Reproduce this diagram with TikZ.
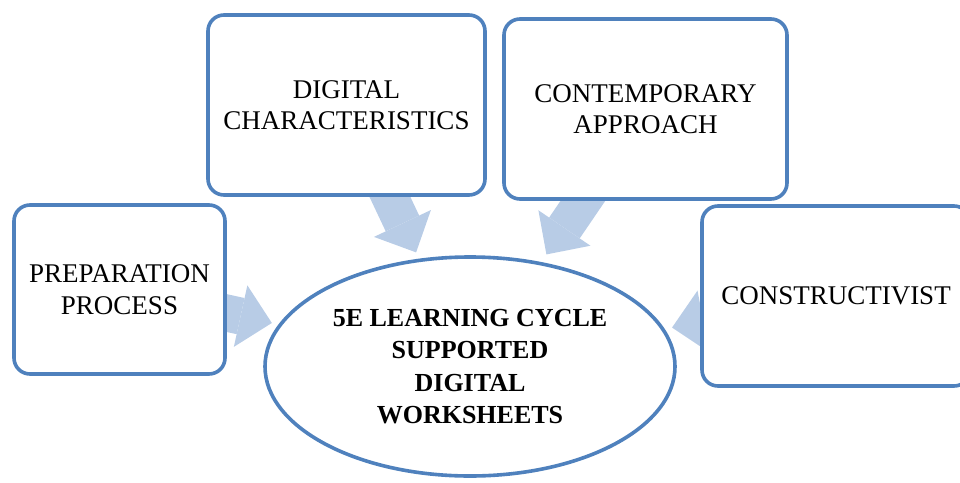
\documentclass[tikz,border=0pt]{standalone}
\usepackage{fontspec}
\setmainfont{Liberation Serif}
\usetikzlibrary{shapes.geometric, arrows.meta, calc, backgrounds}
\definecolor{edgeBlue}{RGB}{79, 129, 189}
\definecolor{flowBlue}{RGB}{184, 204, 230}
\tikzset{
    base/.style={draw=edgeBlue, line width=3.6pt, fill=white, align=center, inner sep=0pt},
    topic/.style={base, rectangle, rounded corners=16pt, font=\fontsize{27}{31.5}\selectfont},
    core/.style={base, ellipse, font=\fontsize{26}{32.5}\selectfont\bfseries},
    flow/.style={draw=flowBlue, line width=37pt,
        -{Triangle[line width=0pt, length=32pt 0, width=63pt 0, fill=flowBlue]}}
}
\begin{document}
\begin{tikzpicture}[x=1pt, y=-1pt]
    \useasboundingbox (0,0) rectangle (960,482);

    % Centre
    \node (cycle) [core, minimum width=410pt, minimum height=219pt] at (470,366.5)
        {5E LEARNING CYCLE\\SUPPORTED\\DIGITAL\\WORKSHEETS};

    % Surrounding topics
    \node (prep) [topic, minimum width=211pt, minimum height=169pt] at (119.5,289.5)
        {PREPARATION\\PROCESS};
    \node (digital) [topic, minimum width=277pt, minimum height=180pt] at (346.5,105)
        {DIGITAL\\CHARACTERISTICS};
    \node (contemp) [topic, minimum width=283pt, minimum height=180pt] at (645.5,109)
        {CONTEMPORARY\\APPROACH};
    \node (construct) [topic, minimum width=268pt, minimum height=180pt] at (836,296)
        {CONSTRUCTIVIST};

    % Arrows into the centre
    \begin{scope}[on background layer]
        \foreach \src/\len in {prep/156, digital/163, contemp/176, construct/167}
            \draw [flow] (\src.center) -- ($(\src.center)!\len pt!(cycle.center)$);
    \end{scope}

\end{tikzpicture}
\end{document}
